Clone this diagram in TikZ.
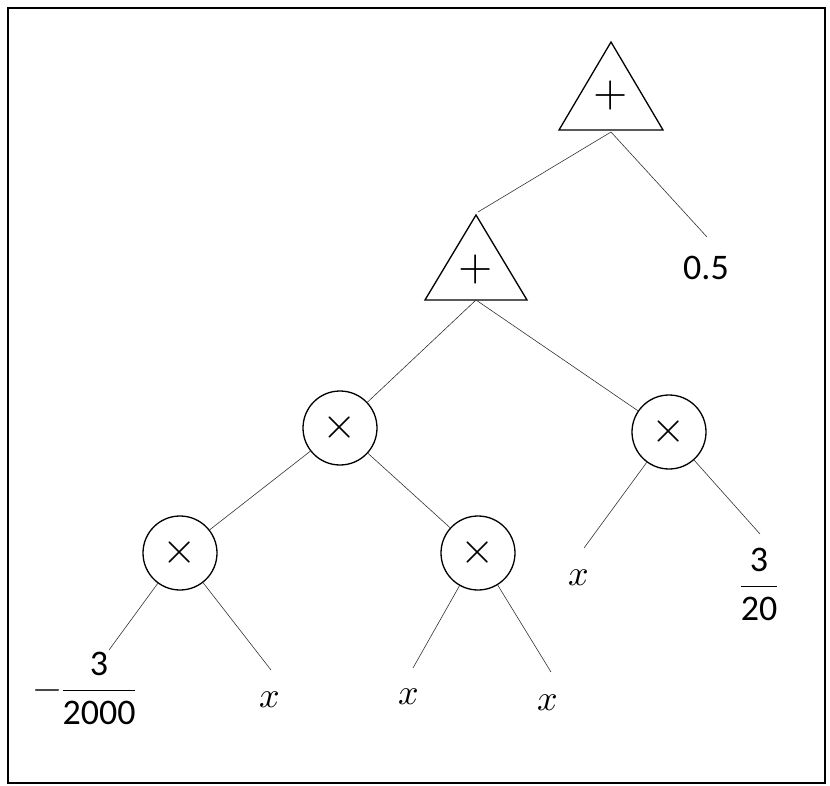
\documentclass[tikz,border=0pt]{standalone}
\usepackage{amsmath}
\usepackage{unicode-math}
\setmainfont{Carlito}
\setmathfont{Latin Modern Math}
\begin{document}
\begin{tikzpicture}[x=1pt,y=-1pt,
  lbl/.style={font=\fontsize{36}{42}\selectfont, inner sep=0pt},
  sym/.style={font=\fontsize{44}{50}\selectfont, inner sep=0pt},
  op/.style={circle, draw, line width=1.3pt, minimum size=74pt, inner sep=0pt, font=\fontsize{44}{50}\selectfont},
  edge/.style={line width=0.6pt, draw=black!80}]
\useasboundingbox (0,0) rectangle (830,786);
\draw[line width=1.2pt] (8,8) rectangle (825,783);
% triangles
\draw[line width=1.3pt] (611,42) -- (663,130) -- (559,130) -- cycle;
\node[sym] (p1) at (611,96) {$+$};
\draw[line width=1.3pt] (476,215) -- (527,300) -- (425,300) -- cycle;
\node[sym] (p2) at (476,270) {$+$};
\node[op] (m1) at (340,428) {$\times$};
\node[op] (m2) at (669,432) {$\times$};
\node[op] (m3) at (180,553) {$\times$};
\node[op] (m4) at (478,553) {$\times$};
\node[lbl] (h) at (706,268) {0.5};
\node[lbl] (a) at (85,688) {$-\dfrac{\text{3}}{\text{2000}}$};
\node[lbl] (x1) at (270,700) {$x$};
\node[lbl] (x2) at (409,697) {$x$};
\node[lbl] (x3) at (548,703) {$x$};
\node[lbl] (x4) at (579,578) {$x$};
\node[lbl] (b) at (759,584) {$\dfrac{\text{3}}{\text{20}}$};
\coordinate (t1) at (611,132);
\coordinate (t2) at (476,300);
\draw[edge] (t1) -- (478,212);
\draw[edge] (t1) -- (707,237);
\draw[edge] (t2) -- (m1);
\draw[edge] (t2) -- (m2);
\draw[edge] (m1) -- (m3);
\draw[edge] (m1) -- (m4);
\draw[edge] (m2) -- (584,548);
\draw[edge] (m2) -- (760,534);
\draw[edge] (m3) -- (109,650);
\draw[edge] (m3) -- (271,670);
\draw[edge] (m4) -- (413,668);
\draw[edge] (m4) -- (551,672);
\end{tikzpicture}
\end{document}
